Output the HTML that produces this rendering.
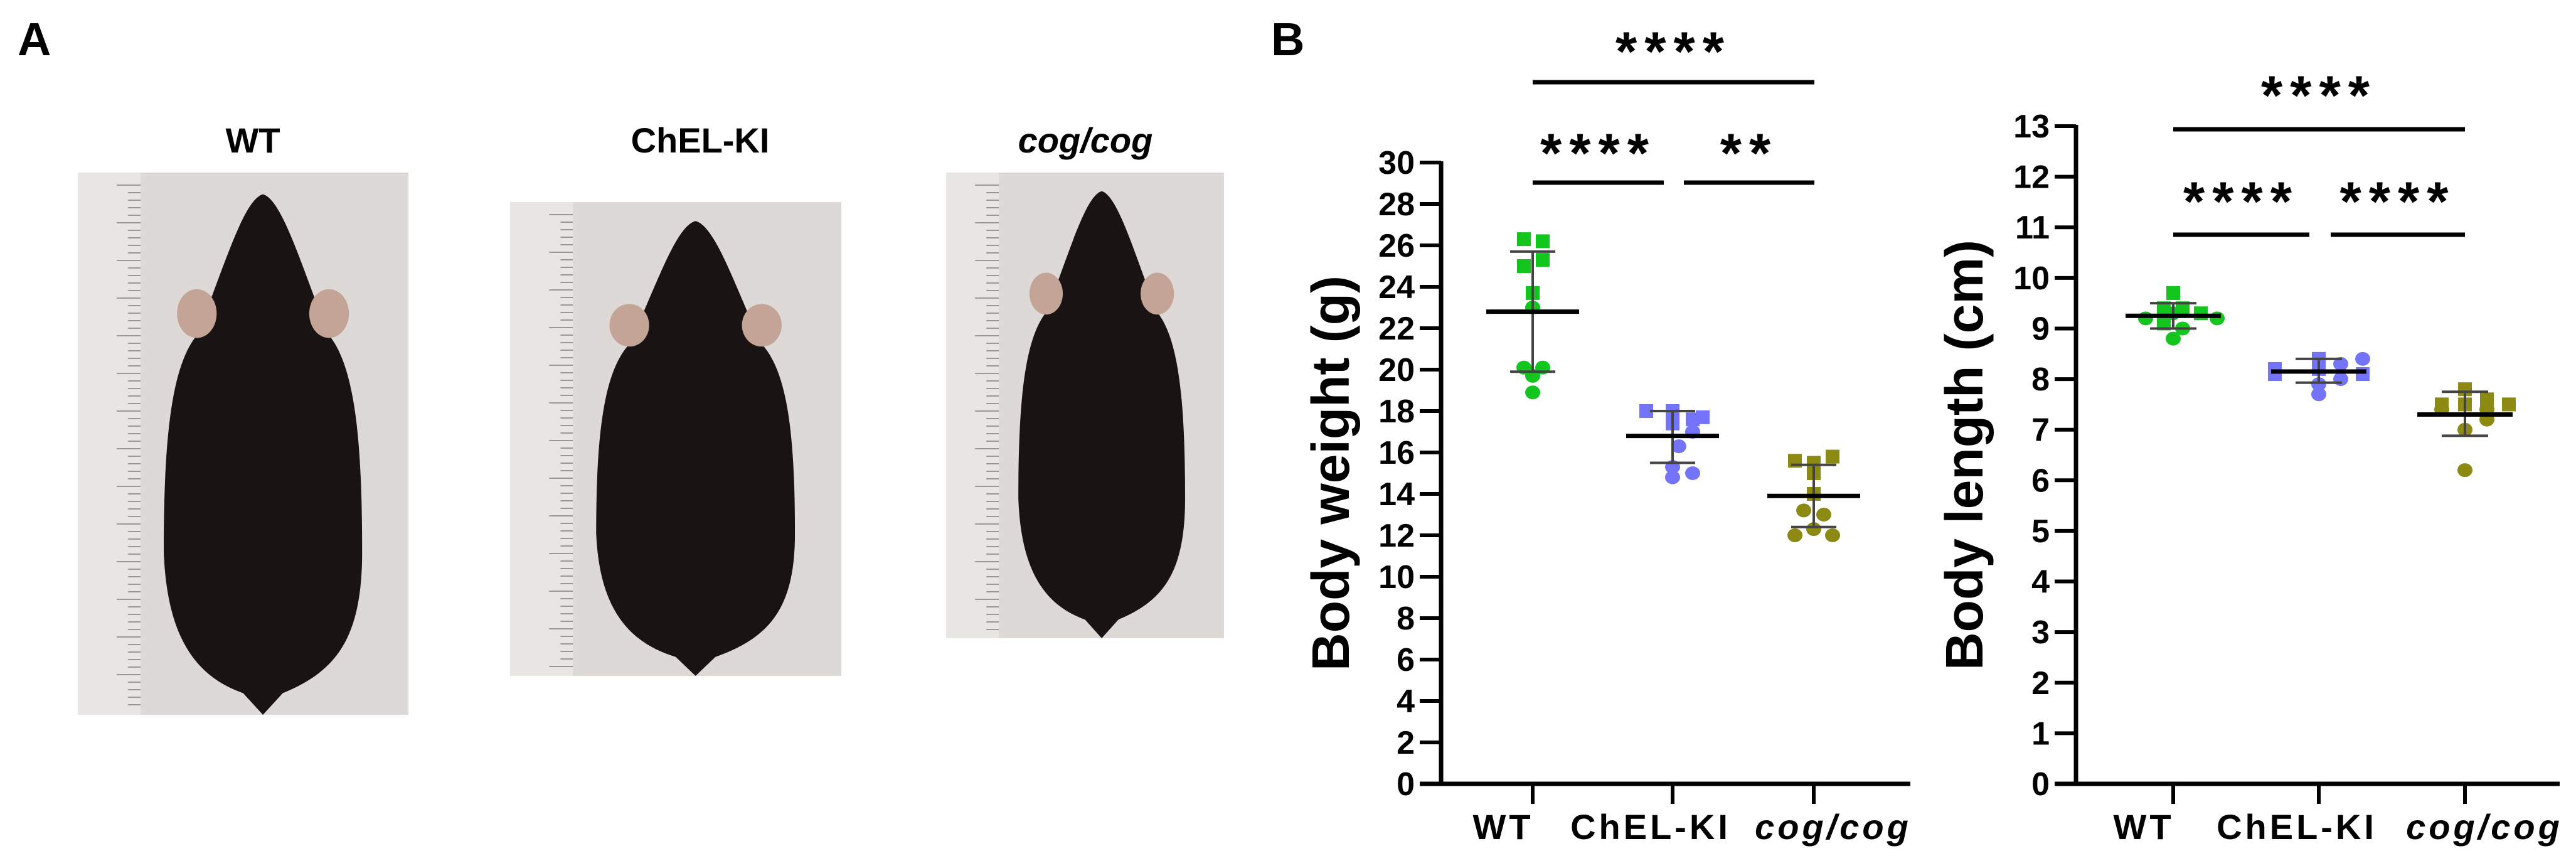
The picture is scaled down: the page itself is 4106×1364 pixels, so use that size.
<!DOCTYPE html>
<html><head><meta charset="utf-8"><style>
html,body{margin:0;padding:0;background:#fff;}
svg{display:block;font-family:"Liberation Sans",Arial,sans-serif;}
</style></head><body>
<svg id="fig" width="4106" height="1364" viewBox="0 0 4106 1364" xmlns="http://www.w3.org/2000/svg">
<text x="28" y="88" font-size="74" font-weight="bold">A</text>
<text x="2026" y="88" font-size="74" font-weight="bold">B</text>
<g id="photos"></g>
<g id="chart1"></g>
<g id="chart2"></g>
</svg>
<script>
// ---- data: body weight (g) ----
const groups = ["WT", "ChEL-KI", "cog/cog"];
const weightWT = [26.3, 26.2, 25.0, 25.3, 23.7, 23.0, 20.1, 20.1, 19.7, 18.9];
const weightKI = [18.0, 18.0, 17.7, 17.4, 17.6, 17.0, 16.3, 15.3, 15.0, 14.8];
const weightCog = [15.6, 15.5, 15.8, 15.0, 14.0, 13.2, 13.0, 12.3, 12.0, 12.0];
const weightMean = [22.8, 16.8, 13.9];
const weightSDhi = [25.7, 18.0, 15.4];
const weightSDlo = [19.9, 15.5, 12.4];
const weightTicks = [0,2,4,6,8,10,12,14,16,18,20,22,24,26,28,30];
// ---- data: body length (cm) ----
const lengthWT = [9.7, 9.4, 9.4, 9.3, 9.1, 9.2, 9.2, 9.0, 8.8, 9.3];
const lengthKI = [8.2, 8.1, 8.4, 8.1, 8.2, 8.4, 8.3, 8.0, 7.9, 7.7];
const lengthCog = [7.8, 7.5, 7.5, 7.5, 7.6, 7.4, 7.2, 7.0, 6.2, 7.4];
const lengthMean = [9.25, 8.15, 7.3];
const lengthSDhi = [9.5, 8.4, 7.75];
const lengthSDlo = [9.0, 7.93, 6.88];
const lengthTicks = [0,1,2,3,4,5,6,7,8,9,10,11,12,13];
const sigLabels1 = ["****", "****", "**"];
const sigLabels2 = ["****", "****", "****"];

// style (not data)
const colors = ["#12c61e", "#7474fa", "#8c8a12"];
const jit1 = [[-14,16,-14,16,0,0,-14,16,0,0],[-42,0,48,0,32,32,10,0,32,0],[-30,0,30,0,0,-16,16,0,-30,30]];
const jit2 = [[0,-15,15,44,-15,-44,70,15,0,0],[-70,-70,0,70,0,70,35,35,0,0],[0,-37,0,70,35,-37,35,0,0,35]];
const labelShift = [-47, -35, 31];

const NS = "http://www.w3.org/2000/svg";
function el(tag, attrs, parent){const e=document.createElementNS(NS,tag);for(const k in attrs)e.setAttribute(k,attrs[k]);parent.appendChild(e);return e;}

function drawChart(g, cfg){
  const {x0,x1,y0,yTop,vmax,ticks,cats,series,mean,hi,lo,title,jit,meanHalf,capHalf,sig,sigLabels}=cfg;
  const ys=v=>y0-(v/vmax)*(y0-yTop);
  const xs=i=>cats[i];
  let a=el('line',{x1:x0,y1:yTop-2,x2:x0,y2:y0+3,stroke:'#000','stroke-width':7},g);
  
  
  ticks.forEach(t=>{
    let tl=el('line',{x1:x0-34,y1:ys(t),x2:x0,y2:ys(t),stroke:'#000','stroke-width':6},g);
    
    
    let tx=el('text',{x:x0-42,y:ys(t)+18,'font-size':52,'font-weight':'bold','text-anchor':'end'},g);
    tx.textContent=t;
    
    
  });
  let xa=el('line',{x1:x0-34,y1:y0,x2:x1,y2:y0,stroke:'#000','stroke-width':7},g);
  
  
  groups.forEach((name,i)=>{
    let tk=el('line',{x1:xs(i),y1:y0,x2:xs(i),y2:y0+32,stroke:'#000','stroke-width':6},g);
    
    
    let lb=el('text',{x:xs(i)+labelShift[i],y:y0+88,'font-size':56,'font-weight':'bold','text-anchor':'middle','letter-spacing':5,'font-style':i==2?'italic':'normal'},g);
    lb.textContent=name;
    
    
  });
  let tt=el('text',{x:0,y:0,'font-size':84,'font-weight':'bold','text-anchor':'middle',transform:`translate(${cfg.titleX},${(y0+yTop)/2}) rotate(-90)`},g);
  tt.textContent=title;
  
  
  series.forEach((vals,i)=>{
    vals.forEach((v,j)=>{
      const cx=xs(i)+jit[i][j], cy=ys(v);
      let m;
      if(j<5) m=el('rect',{x:cx-11,y:cy-11,width:22,height:22,fill:colors[i]},g);
      else m=el('ellipse',{cx:cx,cy:cy,rx:12,ry:11,fill:colors[i]},g);
      
      
    });
    let e1=el('line',{x1:xs(i),y1:ys(hi[i]),x2:xs(i),y2:ys(lo[i]),stroke:'#444','stroke-width':4},g);
    
    
    [hi[i],lo[i]].forEach(v=>{
      let c=el('line',{x1:xs(i)-capHalf,y1:ys(v),x2:xs(i)+capHalf,y2:ys(v),stroke:'#444','stroke-width':4},g);
      
      
    });
    let ml=el('line',{x1:xs(i)-meanHalf,y1:ys(mean[i]),x2:xs(i)+meanHalf,y2:ys(mean[i]),stroke:'#000','stroke-width':7},g);
    
    
  });
  sig.forEach((s,k)=>{
    let b=el('line',{x1:s[0],y1:s[2],x2:s[1],y2:s[2],stroke:'#000','stroke-width':7},g);
    
    
    let t=el('text',{x:(s[0]+s[1])/2,y:s[3]+38,'font-size':88,'font-weight':'bold','text-anchor':'middle','letter-spacing':12},g);
    t.textContent=sigLabels[k];
    
    
  });
}

drawChart(document.getElementById('chart1'),{
  x0:2297,x1:3045,y0:1249,yTop:259,vmax:30,ticks:weightTicks,cats:[2443,2666,2891],
  series:[weightWT,weightKI,weightCog],mean:weightMean,hi:weightSDhi,lo:weightSDlo,
  title:"Body weight (g)",titleX:2150,jit:jit1,meanHalf:74,capHalf:36,
  sig:[[2443,2892,131,74],[2443,2652,291,236],[2684,2892,291,236]],sigLabels:sigLabels1
});
drawChart(document.getElementById('chart2'),{
  x0:3309,x1:4080,y0:1249,yTop:201,vmax:13,ticks:lengthTicks,cats:[3464,3696,3929],
  series:[lengthWT,lengthKI,lengthCog],mean:lengthMean,hi:lengthSDhi,lo:lengthSDlo,
  title:"Body length (cm)",titleX:3160,jit:jit2,meanHalf:76,capHalf:37,
  sig:[[3464,3929,206,144],[3464,3681,374,313],[3715,3929,374,313]],sigLabels:sigLabels2
});

const photos=[
  {x:124,y:275,w:527,h:864,label:"WT",lx:403,it:false},
  {x:813,y:322,w:528,h:755,label:"ChEL-KI",lx:1116,it:false},
  {x:1508,y:275,w:443,h:742,label:"cog/cog",lx:1730,it:true}
];
const pg=document.getElementById('photos');
photos.forEach(p=>{
  let t=el('text',{x:p.lx,y:243,'font-size':56,'font-weight':'bold','text-anchor':'middle','font-style':p.it?'italic':'normal'},pg);
  t.textContent=p.label;
  
  
  let r=el('rect',{x:p.x,y:p.y,width:p.w,height:p.h,fill:'#dcd9d6'},pg);
  
  
  el('rect',{x:p.x,y:p.y,width:p.w*0.19,height:p.h,fill:'#e8e6e3'},pg);
  for(let k=0;k<p.h/12;k++){
    const yy=p.y+20+k*12; if(yy>p.y+p.h-5)break;
    el('line',{x1:p.x+p.w*0.19-(k%5==0?38:20),y1:yy,x2:p.x+p.w*0.19,y2:yy,stroke:'#999','stroke-width':2},pg);
  }
  const X=f=>p.x+f*p.w, Y=f=>p.y+f*p.h;
  const d=`M${X(.56)} ${Y(.04)} C${X(.50)} ${Y(.05)} ${X(.44)} ${Y(.18)} ${X(.36)} ${Y(.30)} C${X(.28)} ${Y(.36)} ${X(.26)} ${Y(.50)} ${X(.26)} ${Y(.70)} C${X(.27)} ${Y(.86)} ${X(.36)} ${Y(.93)} ${X(.50)} ${Y(.96)} L${X(.56)} ${Y(1)} L${X(.62)} ${Y(.96)} C${X(.78)} ${Y(.92)} ${X(.86)} ${Y(.86)} ${X(.86)} ${Y(.70)} C${X(.86)} ${Y(.50)} ${X(.84)} ${Y(.36)} ${X(.76)} ${Y(.30)} C${X(.68)} ${Y(.18)} ${X(.62)} ${Y(.05)} ${X(.56)} ${Y(.04)} Z`;
  let m=el('path',{d:d,fill:'#1a1313'},pg);
  
  
  el('ellipse',{cx:X(.36),cy:Y(.26),rx:p.w*0.06,ry:p.h*0.045,fill:'#c4a496'},pg);
  el('ellipse',{cx:X(.76),cy:Y(.26),rx:p.w*0.06,ry:p.h*0.045,fill:'#c4a496'},pg);
});
</script>
</body></html>
